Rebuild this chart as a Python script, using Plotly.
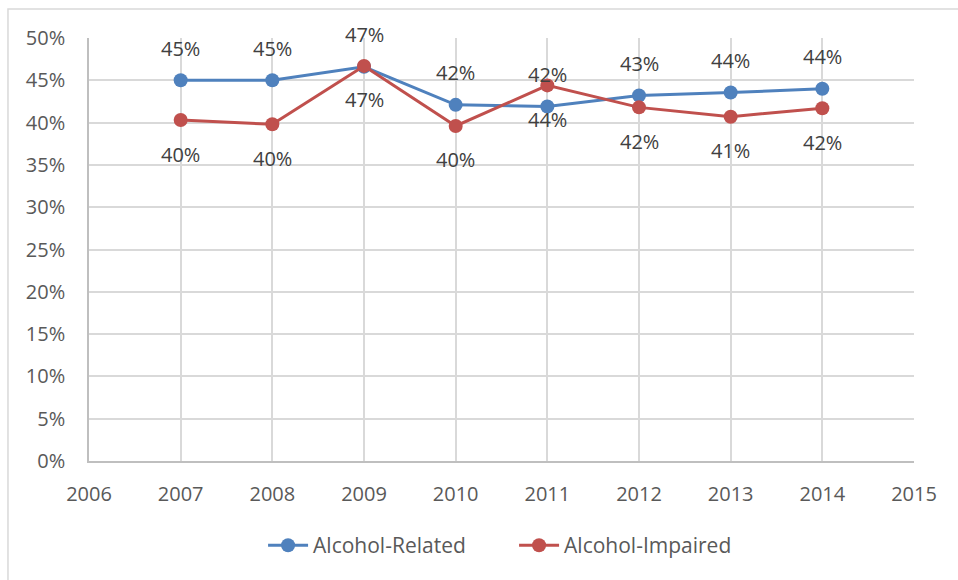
import plotly.graph_objects as go

# Share of fatalities by year
years = [2007, 2008, 2009, 2010, 2011, 2012, 2013, 2014]
alcohol_related = [0.450, 0.450, 0.466, 0.421, 0.419, 0.432, 0.4355, 0.440]
alcohol_impaired = [0.403, 0.398, 0.467, 0.396, 0.444, 0.418, 0.407, 0.417]

series = [
    ("Alcohol-Related", alcohol_related, "#4f81bd", 32),
    ("Alcohol-Impaired", alcohol_impaired, "#c0504d", -34),
]

FONT = "Open Sans"
fig = go.Figure()
annotations = []
for name, vals, color, shift in series:
    fig.add_trace(go.Scatter(
        x=years, y=vals, name=name, mode="lines+markers",
        line=dict(color=color, width=3),
        marker=dict(color=color, size=14),
    ))
    for x, v in zip(years, vals):
        annotations.append(dict(
            x=x, y=v, xref="x", yref="y", text=f"{v:.0%}", showarrow=False,
            yshift=shift, font=dict(family=FONT, size=20, color="#404040"),
        ))

# outer chart frame
fig.add_shape(type="rect", xref="paper", yref="paper",
              x0=-0.0982, y0=-0.35, x1=1.2, y1=1.0686,
              line=dict(color="#d9d9d9", width=1.5), layer="below")

fig.update_layout(
    width=958, height=580,
    margin=dict(l=89, r=44, t=38, b=119),
    paper_bgcolor="white", plot_bgcolor="white",
    font=dict(family=FONT, size=20, color="#595959"),
    annotations=annotations,
    showlegend=True,
    legend=dict(orientation="h", x=0.211, xanchor="left", y=-0.2, yanchor="middle",
                font=dict(family=FONT, size=21, color="#595959"),
                itemwidth=40, entrywidth=196),
)
fig.update_xaxes(range=[2006, 2015], dtick=1, tick0=2006,
                 showgrid=True, gridcolor="#d9d9d9", gridwidth=1.5,
                 showline=True, linecolor="#bfbfbf", linewidth=1.5,
                 zeroline=False, ticks="", ticklabelstandoff=14, mirror=False)
fig.update_yaxes(range=[0, 0.5], dtick=0.05, tickformat=".0%",
                 showgrid=True, gridcolor="#d9d9d9", gridwidth=1.5,
                 showline=True, linecolor="#bfbfbf", linewidth=1.5,
                 zeroline=False, ticks="", ticklabelstandoff=18)

fig.write_html("out.html")
